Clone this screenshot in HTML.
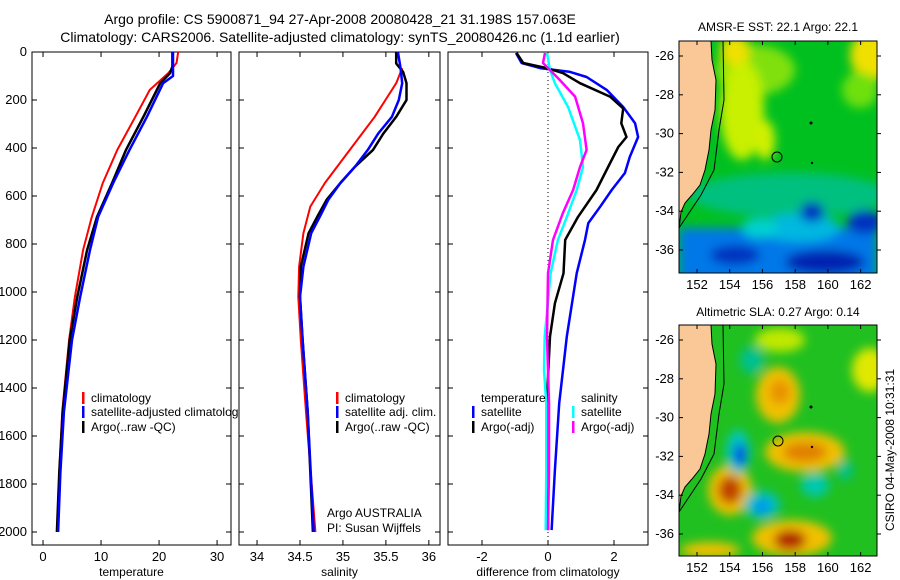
<!DOCTYPE html>
<html><head><meta charset="utf-8"><style>
html,body{margin:0;padding:0;background:#fff;}
svg{display:block;font-family:"Liberation Sans",sans-serif;}
</style></head><body>
<svg id="fig" width="900" height="580" viewBox="0 0 900 580" xmlns="http://www.w3.org/2000/svg">
<defs>
<filter id="blur6" x="-20%" y="-20%" width="140%" height="140%"><feGaussianBlur stdDeviation="5"/></filter>
<clipPath id="clipTop"><rect x="679" y="41" width="198" height="232"/></clipPath>
<clipPath id="clipBot"><rect x="679" y="325" width="198" height="231"/></clipPath>
</defs>
<text x="340" y="24" font-size="14" text-anchor="middle">Argo profile: CS 5900871_94 27-Apr-2008 20080428_21 31.198S 157.063E</text>
<text x="340" y="42" font-size="14" text-anchor="middle">Climatology: CARS2006. Satellite-adjusted climatology: synTS_20080426.nc (1.1d earlier)</text>

<!-- SST map -->
<g>
<text x="778" y="31" font-size="12" text-anchor="middle">AMSR-E SST: 22.1 Argo: 22.1</text>
<g clip-path="url(#clipTop)">
<rect x="679" y="41" width="198" height="232" fill="#00c020"/>
<g filter="url(#blur6)">
<ellipse cx="755" cy="70" rx="40" ry="25" fill="#80e010"/>
<ellipse cx="742" cy="110" rx="22" ry="50" fill="#c8f000"/>
<ellipse cx="765" cy="140" rx="10" ry="20" fill="#d0f000"/>
<ellipse cx="735" cy="50" rx="15" ry="15" fill="#f0e000"/>
<ellipse cx="872" cy="55" rx="22" ry="25" fill="#f0e000"/>
<ellipse cx="860" cy="90" rx="18" ry="18" fill="#70e010"/>
<ellipse cx="790" cy="195" rx="100" ry="22" fill="#00c080"/>
<rect x="679" y="228" width="198" height="60" fill="#0078e8"/>
<ellipse cx="800" cy="228" rx="40" ry="14" fill="#00b8e0"/>
<ellipse cx="825" cy="262" rx="40" ry="12" fill="#0020b0"/>
<ellipse cx="735" cy="255" rx="25" ry="10" fill="#0030c0"/>
<ellipse cx="812" cy="212" rx="12" ry="10" fill="#0030c0"/>
<ellipse cx="865" cy="222" rx="18" ry="12" fill="#0030c0"/>
<ellipse cx="760" cy="228" rx="18" ry="10" fill="#00d0d0"/>
</g>
<polygon fill="#f9c896" stroke="#000" stroke-width="1" points="679,41 711,41 712,60 716,80 715,110 711,130 709,150 705,170 700,185 692,195 685,203 681,212 679,229"/>
<polyline fill="none" stroke="#000" stroke-width="1" points="723,41 724,100 719,130 714,170 701,195 679,228"/>
<circle cx="811" cy="123" r="1.5" fill="#000"/><circle cx="812" cy="163" r="1.2" fill="#000"/>
<circle cx="777" cy="157" r="5" fill="none" stroke="#000" stroke-width="1"/>
</g>
<rect x="679" y="41" width="198" height="232" fill="none" stroke="#000" stroke-width="1"/>
</g>

<!-- SLA map -->
<g>
<text x="778" y="316" font-size="12" text-anchor="middle">Altimetric SLA: 0.27 Argo: 0.14</text>
<g clip-path="url(#clipBot)">
<rect x="679" y="325" width="198" height="231" fill="#20c020"/>
<g filter="url(#blur6)">
<ellipse cx="870" cy="370" rx="18" ry="22" fill="#e0e800"/>
<ellipse cx="780" cy="340" rx="25" ry="12" fill="#c0e800"/>
<ellipse cx="778" cy="395" rx="22" ry="28" fill="#f0c000"/>
<ellipse cx="780" cy="392" rx="10" ry="12" fill="#e89000"/>
<ellipse cx="805" cy="452" rx="40" ry="20" fill="#f0c000"/>
<ellipse cx="805" cy="452" rx="22" ry="10" fill="#e08000"/>
<ellipse cx="730" cy="490" rx="22" ry="25" fill="#f0c000"/>
<ellipse cx="730" cy="490" rx="12" ry="14" fill="#c04000"/>
<ellipse cx="792" cy="538" rx="40" ry="18" fill="#f0c000"/>
<ellipse cx="790" cy="540" rx="16" ry="10" fill="#b02000"/>
<ellipse cx="710" cy="550" rx="30" ry="8" fill="#f0c000"/>
<ellipse cx="738" cy="452" rx="12" ry="22" fill="#00c8c0"/>
<ellipse cx="740" cy="455" rx="6" ry="12" fill="#0040e0"/>
<ellipse cx="762" cy="505" rx="18" ry="14" fill="#00c0c0"/>
<ellipse cx="762" cy="507" rx="8" ry="7" fill="#0090f0"/>
<ellipse cx="815" cy="485" rx="14" ry="12" fill="#00c8b0"/>
<ellipse cx="845" cy="470" rx="8" ry="10" fill="#00c090"/>
<ellipse cx="752" cy="360" rx="12" ry="14" fill="#00c090"/>
</g>
<polygon fill="#f9c896" stroke="#000" stroke-width="1" points="679,325 711,325 712,344 716,364 715,394 711,414 709,434 705,454 700,469 692,479 685,487 681,496 679,513"/>
<polyline fill="none" stroke="#000" stroke-width="1" points="723,325 724,384 719,414 714,454 701,479 679,512"/>
<circle cx="811" cy="407" r="1.5" fill="#000"/><circle cx="812" cy="447" r="1.2" fill="#000"/>
<circle cx="778" cy="441" r="5" fill="none" stroke="#000" stroke-width="1"/>
</g>
<rect x="679" y="325" width="198" height="231" fill="none" stroke="#000" stroke-width="1"/>
</g>
<text transform="translate(894,450) rotate(-90)" font-size="12" text-anchor="middle">CSIRO 04-May-2008 10:31:31</text>

<g id="plots"></g>
</svg>
<script>
// ---- data ----
const climTDepth=[0,46,88,158,270,408,546,687,825,1020,1200,1500,1750,2000];
const climTVal=[23.3,23.0,21.6,18.4,15.9,12.8,10.3,8.4,6.9,5.5,4.5,3.3,2.8,2.6];
const satTDepth=[0,100,130,270,408,546,687,825,1020,1200,1500,1750,2000];
const satTVal=[22.4,22.4,20.7,17.9,14.9,12.1,9.5,8.1,6.4,5.0,3.6,3.0,2.6];
const argoTDepth=[0,60,88,130,270,408,546,687,825,1020,1200,1500,1750,2000];
const argoTVal=[22.3,22.3,21.9,20.2,17.3,14.3,11.9,9.3,7.6,5.9,4.6,3.4,2.8,2.4];
const climSDepth=[67,130,270,408,546,644,755,894,1020,1200,1500,2000];
const climSVal=[35.69,35.62,35.37,35.08,34.79,34.62,34.54,34.49,34.48,34.51,34.57,34.68];
const satSDepth=[0,65,130,200,270,340,408,478,546,616,687,755,894,1020,1200,1500,2000];
const satSVal=[35.64,35.67,35.69,35.65,35.57,35.41,35.29,35.14,34.97,34.83,34.73,34.63,34.54,34.50,34.53,34.59,34.66];
const argoSDepth=[0,48,83,130,200,270,340,408,478,546,616,687,755,894,1020,1200,1500,2000];
const argoSVal=[35.62,35.62,35.70,35.74,35.74,35.62,35.47,35.35,35.14,34.97,34.81,34.70,34.60,34.51,34.50,34.53,34.59,34.65];
const dTSatDepth=[4,46,67,83,104,158,229,297,354,437,504,575,645,713,783,922,1186,1464,1742,1992];
const dTSatVal=[-0.97,-0.8,-0.24,0.67,1.17,1.78,2.28,2.64,2.73,2.48,2.33,1.93,1.58,1.22,1.12,0.87,0.57,0.34,0.21,0.11];
const dTArgoDepth=[4,46,67,88,130,186,235,297,354,396,479,575,687,783,922,1047,1186,1464,1742,1992];
const dTArgoVal=[-0.95,-0.75,-0.04,0.45,0.97,1.88,2.28,2.22,2.38,2.13,1.82,1.47,0.91,0.52,0.47,0.21,0.06,-0.04,0,0];
const dSArgoDepth=[4,46,75,117,186,297,408,479,575,671,783,922,1186,1464,1742,1992];
const dSArgoVal=[-0.09,-0.15,0.06,0.36,0.82,1.06,1.17,0.97,0.76,0.45,0.15,0,-0.03,0.03,0.03,0];
const dSSatDepth=[4,75,130,229,367,479,575,687,783,922,1186,1325,1464,1742,1992];
const dSSatVal=[-0.03,0.06,0.21,0.61,0.97,1.06,0.87,0.57,0.3,0.08,-0.1,-0.12,-0.05,-0.05,-0.07];
const depthTicks=[0,200,400,600,800,1000,1200,1400,1600,1800,2000];
const tempTicks=[0,10,20,30];
const salTicks=[34,34.5,35,35.5,36];
const salTickLabels=['34','34.5','35','35.5','36'];
const diffTicks=[-2,0,2];
const lonTicks=[152,154,156,158,160,162];
const latTicks=[-26,-28,-30,-32,-34,-36];

const NS='http://www.w3.org/2000/svg';
const root=document.getElementById('plots');
function mk(tag,attrs,parent){const e=document.createElementNS(NS,tag);for(const k in attrs)e.setAttribute(k,attrs[k]);(parent||root).appendChild(e);return e;}
const yTop=52,yBot=545;
function yD(d){return 52+0.24*d;}

const panels=[
 {name:'temperature-panel',x0:32,x1:231,v0:-1.9,v1:32.4,ticks:tempTicks,labels:tempTicks.map(String),xlabel:'temperature',yl:true},
 {name:'salinity-panel',x0:239,x1:440,v0:33.79,v1:36.13,ticks:salTicks,labels:salTickLabels,xlabel:'salinity',yl:false},
 {name:'difference-panel',x0:448,x1:648,v0:-3.03,v1:3.03,ticks:diffTicks,labels:diffTicks.map(String),xlabel:'difference from climatology',yl:false}
];
panels.forEach(p=>{p.sx=v=>p.x0+(v-p.v0)/(p.v1-p.v0)*(p.x1-p.x0);});

function line(p,depths,vals,color,w,name){
  const pts=depths.map((d,i)=>p.sx(vals[i]).toFixed(1)+','+yD(d).toFixed(1)).join(' ');
  const e=mk('polyline',{points:pts,fill:'none',stroke:color,'stroke-width':w,'stroke-linejoin':'round'},p.g);
  
  
}

panels.forEach((p,pi)=>{
  const g=mk('g',{});
  
  
  p.g=g;
  mk('rect',{x:p.x0,y:yTop,width:p.x1-p.x0,height:yBot-yTop,fill:'none',stroke:'#000','stroke-width':1},g);
  depthTicks.forEach(d=>{
    const y=yD(d);
    mk('line',{x1:p.x0,y1:y,x2:p.x0+5,y2:y,stroke:'#000'},g);
    mk('line',{x1:p.x1-5,y1:y,x2:p.x1,y2:y,stroke:'#000'},g);
    if(p.yl){const t=mk('text',{x:27,y:y+4,'font-size':13,'text-anchor':'end'},g);t.textContent=String(d);
      
      }
  });
  p.ticks.forEach((v,i)=>{
    const x=p.sx(v);
    mk('line',{x1:x,y1:yTop,x2:x,y2:yTop+5,stroke:'#000'},g);
    mk('line',{x1:x,y1:yBot-5,x2:x,y2:yBot,stroke:'#000'},g);
    const t=mk('text',{x:x,y:561,'font-size':13,'text-anchor':'middle'},g);t.textContent=p.labels[i];
    
    
  });
  const xl=mk('text',{x:(p.x0+p.x1)/2,y:576,'font-size':12,'text-anchor':'middle'},g);xl.textContent=p.xlabel;
  
  
});

const P1=panels[0],P2=panels[1],P3=panels[2];
line(P1,climTDepth,climTVal,'#ff0000',2,'climatology-temperature-line');
line(P1,argoTDepth,argoTVal,'#000',2.5,'argo-temperature-line');
line(P1,satTDepth,satTVal,'#0000ff',2.5,'satellite-temperature-line');
line(P2,climSDepth,climSVal,'#ff0000',2,'climatology-salinity-line');
line(P2,argoSDepth,argoSVal,'#000',2.5,'argo-salinity-line');
line(P2,satSDepth,satSVal,'#0000ff',2.5,'satellite-salinity-line');
mk('line',{x1:P3.sx(0),y1:yTop,x2:P3.sx(0),y2:yBot,stroke:'#000','stroke-dasharray':'1,3'},P3.g);
line(P3,dTSatDepth,dTSatVal,'#0000ff',2.5,'temperature-satellite-diff-line');
line(P3,dTArgoDepth,dTArgoVal,'#000',2.5,'temperature-argo-diff-line');
line(P3,dSSatDepth,dSSatVal,'#00ffff',2.5,'salinity-satellite-diff-line');
line(P3,dSArgoDepth,dSArgoVal,'#ff00ff',2.5,'salinity-argo-diff-line');

function legendEntry(parent,x,y,color,label){
  const g=mk('g',{},parent);
  
  
  if(color) mk('rect',{x:x,y:y-10,width:2.5,height:12,fill:color},g);
  const t=mk('text',{x:x+9,y:y,'font-size':12},g);t.textContent=label;
}
const cp=mk('clipPath',{id:'clipP1'});
mk('rect',{x:32,y:52,width:207,height:493},cp);
const lg1=mk('g',{'clip-path':'url(#clipP1)'});


legendEntry(lg1,82,402,'#ff0000','climatology');
legendEntry(lg1,82,416,'#0000ff','satellite-adjusted climatology');
legendEntry(lg1,82,431,'#000','Argo(..raw -QC)');
const lg2=mk('g',{});


legendEntry(lg2,336,402,'#ff0000','climatology');
legendEntry(lg2,336,416,'#0000ff','satellite adj. clim.');
legendEntry(lg2,336,431,'#000','Argo(..raw -QC)');
const pi1=mk('text',{x:327,y:517,'font-size':12});pi1.textContent='Argo AUSTRALIA';


const pi2=mk('text',{x:327,y:532,'font-size':12});pi2.textContent='PI: Susan Wijffels';


const lg3=mk('g',{});


legendEntry(lg3,472,402,null,'temperature');
legendEntry(lg3,472,416,'#0000ff','satellite');
legendEntry(lg3,472,431,'#000','Argo(-adj)');
legendEntry(lg3,572,402,null,'salinity');
legendEntry(lg3,572,416,'#00ffff','satellite');
legendEntry(lg3,572,431,'#ff00ff','Argo(-adj)');

function mapAxes(y0,y1,name){
  const g=mk('g',{});
  
  
  const lx=lon=>679+(lon-150.9)/(163-150.9)*198;
  const ly=lat=>y0+15+(-26-lat)*19.4;
  lonTicks.forEach(l=>{const x=lx(l);
    mk('line',{x1:x,y1:y0,x2:x,y2:y0+4,stroke:'#000'},g);
    mk('line',{x1:x,y1:y1-4,x2:x,y2:y1,stroke:'#000'},g);
    const t=mk('text',{x:x,y:y1+16,'font-size':13,'text-anchor':'middle'},g);t.textContent=String(l);
    
    });
  latTicks.forEach(l=>{const y=ly(l);
    mk('line',{x1:877,y1:y,x2:881,y2:y,stroke:'#000'},g);
    mk('line',{x1:679,y1:y,x2:683,y2:y,stroke:'#000'},g);
    const t=mk('text',{x:674,y:y+4,'font-size':13,'text-anchor':'end'},g);t.textContent=String(l);
    
    });
}
mapAxes(41,273,'sst-map-axes');
mapAxes(325,556,'sla-map-axes');
</script>
</body></html>
